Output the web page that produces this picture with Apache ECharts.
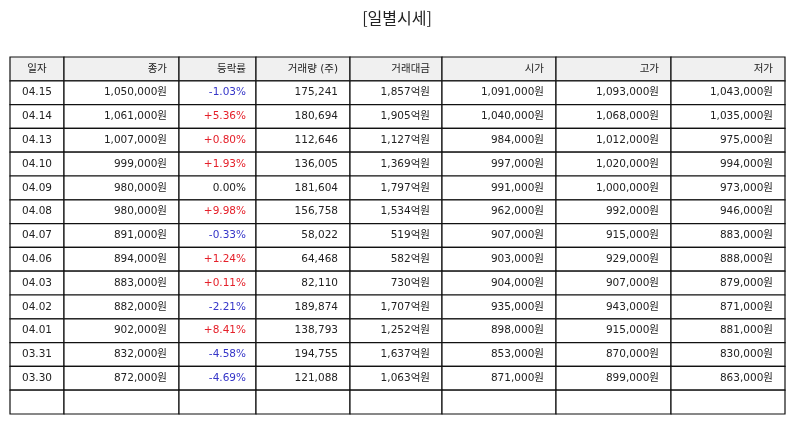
<!DOCTYPE html>
<html>
<head>
<meta charset="utf-8">
<script src="https://cdn.jsdelivr.net/npm/echarts@6/dist/echarts.min.js"></script>
<style>
html,body{margin:0;padding:0;background:#fff;}
#main{width:794px;height:425px;}
</style>
</head>
<body>
<div id="main"></div>
<script>
const title = '[일별시세]';
const headers = ['일자', '종가', '등락률', '거래량 (주)', '거래대금', '시가', '고가', '저가'];
const dates = ['04.15','04.14','04.13','04.10','04.09','04.08','04.07','04.06','04.03','04.02','04.01','03.31','03.30'];
const closePrice = [1050000,1061000,1007000,999000,980000,980000,891000,894000,883000,882000,902000,832000,872000];
const changeRate = [-1.03,5.36,0.80,1.93,0.00,9.98,-0.33,1.24,0.11,-2.21,8.41,-4.58,-4.69];
const volume = [175241,180694,112646,136005,181604,156758,58022,64468,82110,189874,138793,194755,121088];
const tradeAmount = [1857,1905,1127,1369,1797,1534,519,582,730,1707,1252,1637,1063];
const openPrice = [1091000,1040000,984000,997000,991000,962000,907000,903000,904000,935000,898000,853000,871000];
const highPrice = [1093000,1068000,1012000,1020000,1000000,992000,915000,929000,907000,943000,915000,870000,899000];
const lowPrice = [1043000,1035000,975000,994000,973000,946000,883000,888000,879000,871000,881000,830000,863000];

// layout (styling, not data)
const colWidths = [54,115,77,94,92,114,115,114];
const colStarts = [];
let acc = 0;
colWidths.forEach(w => { colStarts.push(acc); acc += w; });
const totalW = acc;

const fmt = n => n.toLocaleString('en-US');
const won = n => fmt(n) + '원';
const rateText = r => (r > 0 ? '+' : '') + r.toFixed(2) + '%';
const rateColor = r => r > 0 ? '#e5202a' : (r < 0 ? '#3535c8' : '#222');

// rows: header, data rows, one empty row
const rowLabels = ['header'].concat(dates).concat(['empty']);
const cells = [];
rowLabels.forEach((lab, r) => {
  for (let c = 0; c < headers.length; c++) {
    let text = '', color = '#222', isHeader = r === 0;
    if (isHeader) text = headers[c];
    else if (r <= dates.length) {
      const i = r - 1;
      switch (c) {
        case 0: text = dates[i]; break;
        case 1: text = won(closePrice[i]); break;
        case 2: text = rateText(changeRate[i]); color = rateColor(changeRate[i]); break;
        case 3: text = fmt(volume[i]); break;
        case 4: text = fmt(tradeAmount[i]) + '억원'; break;
        case 5: text = won(openPrice[i]); break;
        case 6: text = won(highPrice[i]); break;
        case 7: text = won(lowPrice[i]); break;
      }
    }
    cells.push({ value: [c, r], text: text, color: color, header: isHeader });
  }
});

const chart = echarts.init(document.getElementById('main'), null, { renderer: 'canvas' });
chart.setOption({
  animation: false,
  title: {
    text: title, left: 'center', top: 5,
    textStyle: { fontSize: 16, fontWeight: 'normal', color: '#222', fontFamily: 'Noto Sans CJK KR' }
  },
  grid: { left: 10, right: 9, top: 57, bottom: 11 },
  xAxis: { type: 'value', min: 0, max: totalW, show: false },
  yAxis: { type: 'category', data: rowLabels, inverse: true, show: false },
  series: [{
    type: 'custom',
    data: cells,
    renderItem: function (params, api) {
      const c = api.value(0), r = api.value(1);
      const item = cells[params.dataIndex];
      const p0 = api.coord([colStarts[c], r]);
      const p1 = api.coord([colStarts[c] + colWidths[c], r]);
      const h = api.size([0, 1])[1];
      const x = p0[0], y = p0[1] - h / 2, w = p1[0] - p0[0];
      const centered = c === 0;
      const pad = c === 2 ? 10 : 12;
      return {
        type: 'group',
        children: [
          {
            type: 'rect',
            shape: { x: x, y: y, width: w, height: h },
            style: { fill: item.header ? '#f0f0f0' : '#fff', stroke: '#111', lineWidth: 1.2 }
          },
          {
            type: 'text',
            style: {
              text: item.text,
              x: centered ? x + w / 2 : x + w - pad,
              y: y + h / 2,
              textAlign: centered ? 'center' : 'right',
              textVerticalAlign: 'middle',
              fill: item.color,
              font: '10.5px "DejaVu Sans", "Noto Sans CJK KR", sans-serif'
            }
          }
        ]
      };
    }
  }]
});
</script>
</body>
</html>
